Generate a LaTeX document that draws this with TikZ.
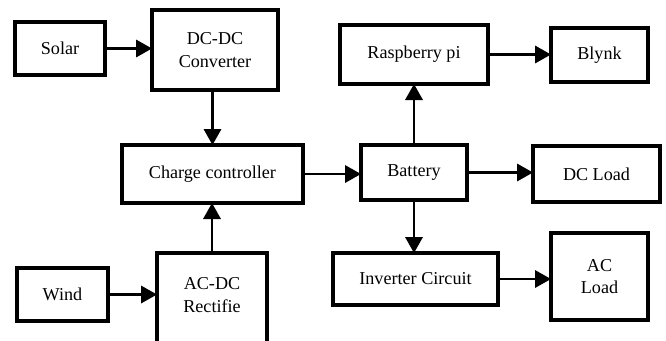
\documentclass[tikz,border=0pt]{standalone}
\usepackage{fontspec}
\setmainfont{Liberation Serif}
\usetikzlibrary{arrows.meta}
\begin{document}
\begin{tikzpicture}[x=0.75pt,y=-0.75pt,
  blk/.style={draw,line width=2.3pt,inner sep=0pt,outer sep=0pt,align=center,
    font=\fontsize{13.6}{17}\selectfont,fill=white},
  conn/.style={line width=1.8pt,-{Triangle[length=12pt,width=13pt]}}]
\useasboundingbox (0,0) rectangle (666,340);
\node[blk,minimum width=90pt*0.75,minimum height=53pt*0.75] (solar) at (60,48.5) {Solar};
\node[blk,minimum width=126pt*0.75,minimum height=80pt*0.75] (dcdc) at (215,50) {DC-DC\\Converter};
\node[blk,minimum width=181pt*0.75,minimum height=58pt*0.75] (cc) at (212.5,174) {Charge controller};
\node[blk,minimum width=91pt*0.75,minimum height=53pt*0.75] (wind) at (62.5,294.5) {Wind};
\node[blk,minimum width=110pt*0.75,minimum height=92pt*0.75,text depth=6pt] (acdc) at (212,299) {AC-DC\\Rectifie};
\node[blk,minimum width=106pt*0.75,minimum height=55pt*0.75] (bat) at (414,172.5) {Battery};
\node[blk,minimum width=148pt*0.75,minimum height=59pt*0.75] (rpi) at (414,54.5) {Raspberry pi};
\node[blk,minimum width=97pt*0.75,minimum height=54pt*0.75] (blynk) at (599.5,55) {Blynk};
\node[blk,minimum width=127pt*0.75,minimum height=56pt*0.75] (dcl) at (596.5,174) {DC Load};
\node[blk,minimum width=165pt*0.75,minimum height=52pt*0.75] (inv) at (415.5,279) {Inverter Circuit};
\node[blk,minimum width=97pt*0.75,minimum height=87pt*0.75] (acl) at (599.5,276.5) {AC\\Load};
\draw[conn] (solar.east) -- (solar.east -| dcdc.west);
\draw[conn] (cc.north |- dcdc.south) -- (cc.north);
\draw[conn] (acdc.north) -- (acdc.north |- cc.south);
\draw[conn] (wind.east) -- (wind.east -| acdc.west);
\draw[conn] (cc.east) -- (cc.east -| bat.west);
\draw[conn] (bat.north) -- (bat.north |- rpi.south);
\draw[conn] (rpi.east) -- (rpi.east -| blynk.west);
\draw[conn] (bat.east) -- (bat.east -| dcl.west);
\draw[conn] (bat.south) -- (bat.south |- inv.north);
\draw[conn] (inv.east) -- (inv.east -| acl.west);
\end{tikzpicture}
\end{document}
